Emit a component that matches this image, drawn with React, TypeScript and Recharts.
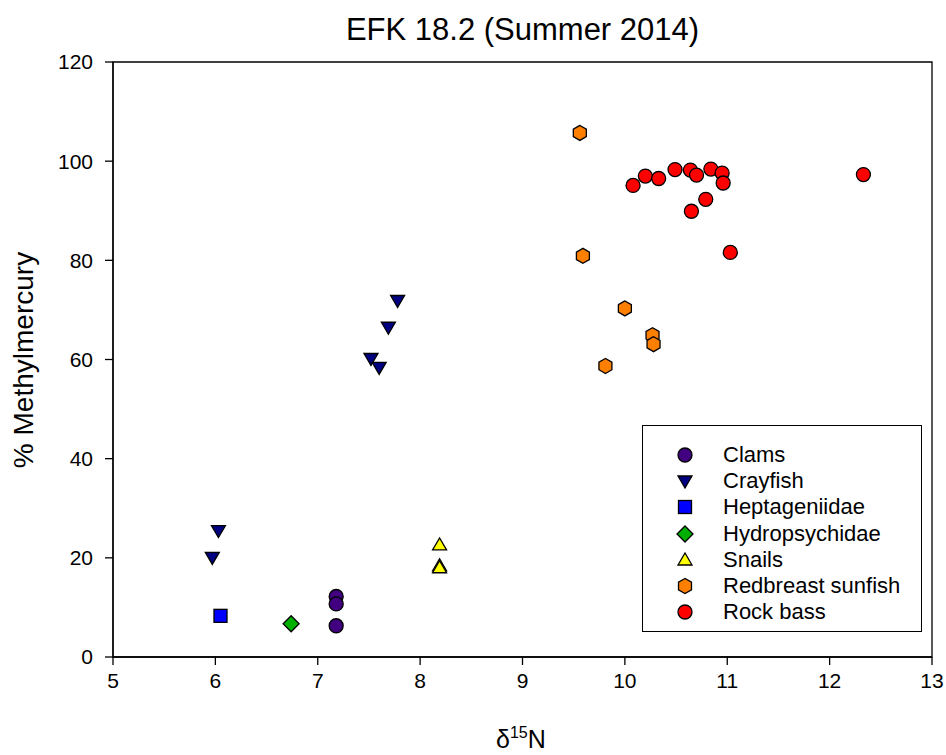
import React from 'react';
import {
  ScatterChart, Scatter, XAxis, YAxis, ReferenceArea,
} from 'recharts';

const FONT = "Arial, 'Liberation Sans', sans-serif";

const clamsX = [7.18, 7.18, 7.18];
const clamsY = [12.2, 10.7, 6.3];
const crayfishX = [7.78, 7.69, 7.52, 7.6, 6.03, 5.97];
const crayfishY = [71.9, 66.5, 60.2, 58.4, 25.5, 20.1];
const heptX = [6.05];
const heptY = [8.3];
const hydroX = [6.74];
const hydroY = [6.7];
const snailsX = [8.19, 8.19, 8.19];
const snailsY = [22.6, 18.4, 18.0];
const sunfishX = [9.56, 9.59, 10.0, 10.27, 10.28, 9.81];
const sunfishY = [105.7, 80.9, 70.3, 64.9, 63.1, 58.7];
const bassX = [10.08, 10.2, 10.33, 10.49, 10.64, 10.7, 10.84, 10.95, 10.96, 10.79, 10.65, 11.03, 12.33];
const bassY = [95.1, 97.0, 96.5, 98.3, 98.2, 97.2, 98.4, 97.6, 95.6, 92.3, 89.9, 81.6, 97.3];

const xTicks = [5, 6, 7, 8, 9, 10, 11, 12, 13];
const yTicks = [0, 20, 40, 60, 80, 100, 120];

const pts = (xs: number[], ys: number[]) => xs.map((x, i) => ({ x, y: ys[i] }));

type Kind = 'circle' | 'down' | 'square' | 'diamond' | 'up' | 'hex';

function Marker({ kind, cx, cy, fill }: { kind: Kind; cx: number; cy: number; fill: string }) {
  const s = { fill, stroke: '#000', strokeWidth: 1.3 };
  switch (kind) {
    case 'circle':
      return <circle cx={cx} cy={cy} r={7} {...s} />;
    case 'down':
      return <polygon points={`${cx - 7},${cy - 5} ${cx + 7},${cy - 5} ${cx},${cy + 7}`} {...s} />;
    case 'up':
      return <polygon points={`${cx - 7},${cy + 5} ${cx + 7},${cy + 5} ${cx},${cy - 7}`} {...s} />;
    case 'square':
      return <rect x={cx - 6.5} y={cy - 6.5} width={13} height={13} {...s} />;
    case 'diamond':
      return <polygon points={`${cx},${cy - 8} ${cx + 8},${cy} ${cx},${cy + 8} ${cx - 8},${cy}`} {...s} />;
    case 'hex': {
      const p = [];
      for (let k = 0; k < 6; k++) {
        const a = Math.PI / 2 + (k * Math.PI) / 3;
        p.push(`${cx + 7.5 * Math.cos(a)},${cy - 7.5 * Math.sin(a)}`);
      }
      return <polygon points={p.join(' ')} {...s} />;
    }
  }
  return null;
}

const SERIES: { name: string; kind: Kind; fill: string; xs: number[]; ys: number[] }[] = [
  { name: 'Clams', kind: 'circle', fill: '#400080', xs: clamsX, ys: clamsY },
  { name: 'Crayfish', kind: 'down', fill: '#000080', xs: crayfishX, ys: crayfishY },
  { name: 'Heptageniidae', kind: 'square', fill: '#0000ff', xs: heptX, ys: heptY },
  { name: 'Hydropsychidae', kind: 'diamond', fill: '#00b000', xs: hydroX, ys: hydroY },
  { name: 'Snails', kind: 'up', fill: '#ffff00', xs: snailsX, ys: snailsY },
  { name: 'Redbreast sunfish', kind: 'hex', fill: '#ff8000', xs: sunfishX, ys: sunfishY },
  { name: 'Rock bass', kind: 'circle', fill: '#ff0000', xs: bassX, ys: bassY },
];

const tickStyle = { fill: '#000', fontSize: 21, fontFamily: FONT };

export default function App() {
  return (
    <div style={{ position: 'absolute', left: 0, top: 0, width: 946, height: 755, background: '#fff', overflow: 'hidden' }}>
      <ScatterChart width={946} height={755} margin={{ top: 62, right: 14, bottom: 58, left: 53 }}>
        <XAxis
          type="number" dataKey="x" domain={[5, 13]} ticks={xTicks} allowDataOverflow
          height={40} tick={tickStyle} tickSize={8} tickMargin={8}
          axisLine={{ stroke: '#000', strokeWidth: 1.3 }} tickLine={{ stroke: '#000', strokeWidth: 1.3 }}
        />
        <YAxis
          type="number" dataKey="y" domain={[0, 120]} ticks={yTicks} allowDataOverflow
          width={60} tick={tickStyle} tickSize={8} tickMargin={12}
          axisLine={{ stroke: '#000', strokeWidth: 1.3 }} tickLine={{ stroke: '#000', strokeWidth: 1.3 }}
        />
        <ReferenceArea x1={5} x2={13} y1={0} y2={120} fill="none" stroke="#000" strokeWidth={1.3} fillOpacity={0} />
        {SERIES.map((s) => (
          <Scatter
            key={s.name}
            name={s.name}
            data={pts(s.xs, s.ys)}
            isAnimationActive={false}
            shape={(p: any) => <Marker kind={s.kind} cx={p.cx} cy={p.cy} fill={s.fill} />}
          />
        ))}
        <text x={522.5} y={40} textAnchor="middle" fontSize={31} fontFamily={FONT} fill="#000">
          EFK 18.2 (Summer 2014)
        </text>
        <text
          x={33} y={360} textAnchor="middle" fontSize={28} fontFamily={FONT} fill="#000"
          transform="rotate(-90 33 360)"
        >
          % Methylmercury
        </text>
        <text x={496} y={748} fontSize={25} fontFamily={FONT} fill="#000">
          δ
          <tspan fontSize={16} dy={-10}>15</tspan>
          <tspan fontSize={25} dy={10}>N</tspan>
        </text>
      </ScatterChart>
      <div
        style={{
          position: 'absolute', left: 642, top: 425, width: 280, height: 207,
          border: '1.3px solid #000', boxSizing: 'border-box', background: '#fff',
          fontFamily: FONT, fontSize: 22, color: '#000',
        }}
      >
        {SERIES.map((s, i) => (
          <div key={s.name} style={{ position: 'absolute', left: 0, top: 16 + i * 26.2, height: 26, display: 'flex', alignItems: 'center' }}>
            <svg width={80} height={26} style={{ display: 'block' }}>
              <Marker kind={s.kind} cx={42} cy={13} fill={s.fill} />
            </svg>
            <span style={{ lineHeight: '26px', whiteSpace: 'nowrap' }}>{s.name}</span>
          </div>
        ))}
      </div>
    </div>
  );
}
